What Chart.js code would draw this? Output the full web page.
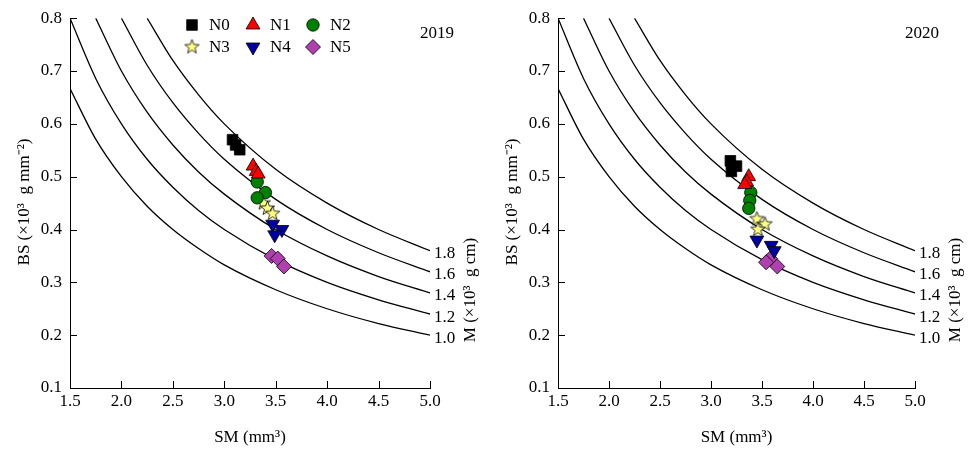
<!DOCTYPE html>
<html>
<head>
<meta charset="utf-8">
<script src="https://cdn.jsdelivr.net/npm/chart.js@4.4.0/dist/chart.umd.min.js"></script>
<style>
  html, body { margin: 0; padding: 0; background: #fff; }
  .panel { position: absolute; top: 0; height: 450px; }
</style>
</head>
<body>
<div class="panel" style="left:0;width:486px"><canvas id="c2019"></canvas></div>
<div class="panel" style="left:486px;width:487px"><canvas id="c2020"></canvas></div>
<script>
// groups
const groups = ['N0', 'N1', 'N2', 'N3', 'N4', 'N5'];
const groupFill = ['#000000', '#ff0000', '#008000', '#ffff80', '#0000a0', '#b040b0'];

// 2019 (SM, BS) per group
const sm2019 = [
  [3.08, 3.11, 3.15],
  [3.28, 3.31, 3.33],
  [3.32, 3.40, 3.32],
  [3.38, 3.42, 3.47],
  [3.47, 3.56, 3.49],
  [3.46, 3.52, 3.58]
];
const bs2019 = [
  [0.570, 0.560, 0.551],
  [0.520, 0.510, 0.505],
  [0.490, 0.470, 0.460],
  [0.450, 0.440, 0.430],
  [0.410, 0.400, 0.390],
  [0.350, 0.345, 0.330]
];

// 2020
const sm2020 = [
  [3.19, 3.25, 3.20],
  [3.37, 3.35, 3.33],
  [3.39, 3.38, 3.37],
  [3.45, 3.53, 3.46],
  [3.45, 3.59, 3.62],
  [3.58, 3.54, 3.65]
];
const bs2020 = [
  [0.530, 0.520, 0.510],
  [0.500, 0.490, 0.485],
  [0.470, 0.455, 0.440],
  [0.420, 0.410, 0.400],
  [0.380, 0.370, 0.360],
  [0.345, 0.338, 0.330]
];

// iso-M curves (BS at each SM)
const curveSM = [1.5, 1.75, 2.0, 2.25, 2.5, 2.75, 3.0, 3.5, 4.0, 4.5, 5.0];
const curveLabels = ['1.0', '1.2', '1.4', '1.6', '1.8'];
const curveBS = [
  [0.667, 0.571, 0.500, 0.444, 0.400, 0.364, 0.333, 0.286, 0.250, 0.222, 0.200],
  [0.800, 0.686, 0.600, 0.533, 0.480, 0.436, 0.400, 0.343, 0.300, 0.267, 0.240],
  [null, 0.800, 0.700, 0.622, 0.560, 0.509, 0.467, 0.400, 0.350, 0.311, 0.280],
  [null, null, 0.800, 0.711, 0.640, 0.582, 0.533, 0.457, 0.400, 0.356, 0.320],
  [null, null, null, 0.800, 0.720, 0.655, 0.600, 0.514, 0.450, 0.400, 0.360]
];

const xTicks = [1.5, 2.0, 2.5, 3.0, 3.5, 4.0, 4.5, 5.0];
const yTicks = [0.1, 0.2, 0.3, 0.4, 0.5, 0.6, 0.7, 0.8];

const FONT = '"Liberation Serif", "Times New Roman", serif';
Chart.defaults.font.family = FONT;
Chart.defaults.font.size = 17;
Chart.defaults.color = '#000';

// filled five-point star, Chart.js only has an outline asterisk
function makeStar(r, fill) {
  const c = document.createElement('canvas');
  const s = Math.ceil(r * 2 + 4);
  c.width = s; c.height = s;
  const g = c.getContext('2d');
  g.beginPath();
  for (let i = 0; i < 10; i++) {
    const rad = i % 2 === 0 ? r : r * 0.42;
    const a = -Math.PI / 2 + i * Math.PI / 5;
    const px = s / 2 + rad * Math.cos(a), py = s / 2 + rad * Math.sin(a);
    i === 0 ? g.moveTo(px, py) : g.lineTo(px, py);
  }
  g.closePath();
  g.fillStyle = fill;
  g.fill();
  g.lineWidth = 0.8;
  g.strokeStyle = '#000';
  g.stroke();
  return c;
}
const starImg = makeStar(7.5, groupFill[3]);

const markStyle = ['rect', 'triangle', 'circle', starImg, 'triangle', 'rectRot'];
const markRadius = [7.5, 8, 6.2, 7.5, 8, 7.5];
const markRotation = [0, 0, 0, 0, 180, 0];

const overlay = {
  id: 'overlay',
  afterDraw(chart, args, opts) {
    const ctx = chart.ctx;
    const a = chart.chartArea;
    const xs = chart.scales.x, ys = chart.scales.y;
    ctx.save();
    // inward ticks
    ctx.strokeStyle = '#000';
    ctx.lineWidth = 1;
    ctx.beginPath();
    xTicks.forEach(v => {
      const px = Math.round(xs.getPixelForValue(v)) + 0.5;
      ctx.moveTo(px, a.bottom); ctx.lineTo(px, a.bottom - 7);
    });
    yTicks.forEach(v => {
      const py = Math.round(ys.getPixelForValue(v)) + 0.5;
      ctx.moveTo(a.left, py); ctx.lineTo(a.left + 7, py);
    });
    ctx.stroke();

    ctx.fillStyle = '#000';
    ctx.font = '17px ' + FONT;
    // curve labels at right end
    ctx.textAlign = 'left';
    ctx.textBaseline = 'middle';
    curveBS.forEach((arr, i) => {
      const py = ys.getPixelForValue(arr[arr.length - 1]);
      ctx.fillText(curveLabels[i], a.right + 4, py + 3);
    });
    // year
    ctx.textAlign = 'right';
    ctx.fillText(opts.year, a.right + 24, 34);
    // x title
    ctx.textAlign = 'center';
    ctx.fillText('SM (mm³)', (a.left + a.right) / 2, 438);
    // y title
    ctx.save();
    ctx.translate(a.left - 45, 202);
    ctx.rotate(-Math.PI / 2);
    ctx.fillText('BS (×10³  g mm⁻²)', 0, 0);
    ctx.restore();
    // right title
    ctx.save();
    ctx.translate(a.right + 41, 290);
    ctx.rotate(-Math.PI / 2);
    ctx.fillText('M (×10³  g cm)', 0, 0);
    ctx.restore();

    // legend
    if (opts.legend) {
      const colX = [122, 183, 243];
      const rowY = [25, 47];
      groups.forEach((name, i) => {
        const mx = a.left + colX[i % 3];
        const my = rowY[Math.floor(i / 3)];
        ctx.fillStyle = groupFill[i];
        ctx.strokeStyle = '#000';
        ctx.lineWidth = 0.8;
        Chart.helpers.drawPoint(ctx, {
          pointStyle: markStyle[i],
          radius: markRadius[i],
          rotation: markRotation[i],
          borderWidth: 0.8
        }, mx, my);
        ctx.fillStyle = '#000';
        ctx.textAlign = 'left';
        ctx.fillText(name, mx + 17, my + 1);
      });
    }
    ctx.restore();
  }
};

function makeChart(id, smSets, bsSets, year, legend, yWidth, padRight) {
  const datasets = [];
  curveBS.forEach((arr, i) => {
    datasets.push({
      type: 'line',
      label: 'M ' + curveLabels[i],
      data: curveSM.map((x, j) => ({ x: x, y: arr[j] })),
      borderColor: '#000',
      borderWidth: 1.3,
      pointRadius: 0,
      cubicInterpolationMode: 'monotone',
      spanGaps: false,
      fill: false,
      order: 10
    });
  });
  groups.forEach((name, i) => {
    datasets.push({
      type: 'scatter',
      label: name,
      data: smSets[i].map((x, j) => ({ x: x, y: bsSets[i][j] })),
      backgroundColor: groupFill[i],
      borderColor: '#000',
      borderWidth: 0.8,
      pointStyle: markStyle[i],
      pointRadius: markRadius[i],
      pointRotation: markRotation[i],
      order: 1
    });
  });

  return new Chart(document.getElementById(id), {
    type: 'scatter',
    data: { datasets },
    options: {
      responsive: true,
      maintainAspectRatio: false,
      animation: false,
      layout: { padding: { left: 0, right: padRight, top: 16, bottom: 0 } },
      plugins: {
        legend: { display: false },
        tooltip: { enabled: false },
        overlay: { year: year, legend: legend }
      },
      scales: {
        x: {
          type: 'linear',
          min: 1.5,
          max: 5.0,
          afterBuildTicks: s => { s.ticks = xTicks.map(v => ({ value: v })); },
          afterFit: s => { s.height = 62; },
          ticks: { padding: 3, callback: v => Number(v).toFixed(1) },
          grid: { display: false, drawTicks: false },
          border: { display: true, color: '#000', width: 1 }
        },
        y: {
          type: 'linear',
          min: 0.1,
          max: 0.8,
          afterBuildTicks: s => { s.ticks = yTicks.map(v => ({ value: v })); },
          afterFit: s => { s.width = yWidth; },
          ticks: { padding: 8, callback: v => Number(v).toFixed(1) },
          grid: { display: false, drawTicks: false },
          border: { display: true, color: '#000', width: 1 }
        }
      }
    },
    plugins: [overlay]
  });
}

makeChart('c2019', sm2019, bs2019, '2019', true, 70, 56);
makeChart('c2020', sm2020, bs2020, '2020', false, 72, 58);
</script>
</body>
</html>
